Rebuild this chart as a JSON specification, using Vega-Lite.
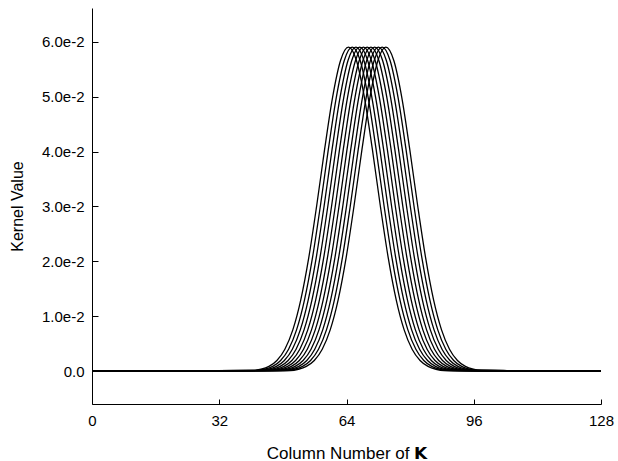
{
  "$schema": "https://vega.github.io/schema/vega-lite/v6.json",
  "autosize": {"type": "none"},
  "width": 509,
  "height": 396,
  "padding": {"left": 92, "top": 8, "right": 17, "bottom": 57},
  "background": "white",
  "config": {
    "view": {"stroke": null},
    "font": "Liberation Sans",
    "axis": {
      "grid": false,
      "domainColor": "black",
      "domainWidth": 1,
      "tickColor": "black",
      "tickWidth": 1,
      "labelColor": "black",
      "titleColor": "black",
      "labelFont": "Liberation Sans",
      "titleFont": "Liberation Sans",
      "labelFontSize": 15,
      "titleFontSize": 16,
      "titleFontWeight": "normal"
    }
  },
  "data": {
    "values": [
      {"curve": 0, "col": 0, "value": 0},
      {"curve": 0, "col": 40.5, "value": 0.000139}, {"curve": 0, "col": 42.5, "value": 0.000366}, {"curve": 0, "col": 44.5, "value": 0.000884}, {"curve": 0, "col": 46.5, "value": 0.00196}, {"curve": 0, "col": 48.5, "value": 0.00401}, {"curve": 0, "col": 50.5, "value": 0.00753}, {"curve": 0, "col": 52.5, "value": 0.013}, {"curve": 0, "col": 54.5, "value": 0.02064}, {"curve": 0, "col": 56.5, "value": 0.03013}, {"curve": 0, "col": 58.5, "value": 0.04043}, {"curve": 0, "col": 60.5, "value": 0.04987}, {"curve": 0, "col": 62.5, "value": 0.05657},
      {"curve": 0, "col": 64.5, "value": 0.059},
      {"curve": 0, "col": 66.5, "value": 0.05657}, {"curve": 0, "col": 68.5, "value": 0.04987}, {"curve": 0, "col": 70.5, "value": 0.04043}, {"curve": 0, "col": 72.5, "value": 0.03013}, {"curve": 0, "col": 74.5, "value": 0.02064}, {"curve": 0, "col": 76.5, "value": 0.013}, {"curve": 0, "col": 78.5, "value": 0.00753}, {"curve": 0, "col": 80.5, "value": 0.00401}, {"curve": 0, "col": 82.5, "value": 0.00196}, {"curve": 0, "col": 84.5, "value": 0.000884}, {"curve": 0, "col": 86.5, "value": 0.000366}, {"curve": 0, "col": 88.5, "value": 0.000139},
      {"curve": 0, "col": 128, "value": 0},

      {"curve": 1, "col": 0, "value": 0},
      {"curve": 1, "col": 41.44, "value": 0.000139}, {"curve": 1, "col": 43.44, "value": 0.000366}, {"curve": 1, "col": 45.44, "value": 0.000884}, {"curve": 1, "col": 47.44, "value": 0.00196}, {"curve": 1, "col": 49.44, "value": 0.00401}, {"curve": 1, "col": 51.44, "value": 0.00753}, {"curve": 1, "col": 53.44, "value": 0.013}, {"curve": 1, "col": 55.44, "value": 0.02064}, {"curve": 1, "col": 57.44, "value": 0.03013}, {"curve": 1, "col": 59.44, "value": 0.04043}, {"curve": 1, "col": 61.44, "value": 0.04987}, {"curve": 1, "col": 63.44, "value": 0.05657},
      {"curve": 1, "col": 65.44, "value": 0.059},
      {"curve": 1, "col": 67.44, "value": 0.05657}, {"curve": 1, "col": 69.44, "value": 0.04987}, {"curve": 1, "col": 71.44, "value": 0.04043}, {"curve": 1, "col": 73.44, "value": 0.03013}, {"curve": 1, "col": 75.44, "value": 0.02064}, {"curve": 1, "col": 77.44, "value": 0.013}, {"curve": 1, "col": 79.44, "value": 0.00753}, {"curve": 1, "col": 81.44, "value": 0.00401}, {"curve": 1, "col": 83.44, "value": 0.00196}, {"curve": 1, "col": 85.44, "value": 0.000884}, {"curve": 1, "col": 87.44, "value": 0.000366}, {"curve": 1, "col": 89.44, "value": 0.000139},
      {"curve": 1, "col": 128, "value": 0},

      {"curve": 2, "col": 0, "value": 0},
      {"curve": 2, "col": 42.38, "value": 0.000139}, {"curve": 2, "col": 44.38, "value": 0.000366}, {"curve": 2, "col": 46.38, "value": 0.000884}, {"curve": 2, "col": 48.38, "value": 0.00196}, {"curve": 2, "col": 50.38, "value": 0.00401}, {"curve": 2, "col": 52.38, "value": 0.00753}, {"curve": 2, "col": 54.38, "value": 0.013}, {"curve": 2, "col": 56.38, "value": 0.02064}, {"curve": 2, "col": 58.38, "value": 0.03013}, {"curve": 2, "col": 60.38, "value": 0.04043}, {"curve": 2, "col": 62.38, "value": 0.04987}, {"curve": 2, "col": 64.38, "value": 0.05657},
      {"curve": 2, "col": 66.38, "value": 0.059},
      {"curve": 2, "col": 68.38, "value": 0.05657}, {"curve": 2, "col": 70.38, "value": 0.04987}, {"curve": 2, "col": 72.38, "value": 0.04043}, {"curve": 2, "col": 74.38, "value": 0.03013}, {"curve": 2, "col": 76.38, "value": 0.02064}, {"curve": 2, "col": 78.38, "value": 0.013}, {"curve": 2, "col": 80.38, "value": 0.00753}, {"curve": 2, "col": 82.38, "value": 0.00401}, {"curve": 2, "col": 84.38, "value": 0.00196}, {"curve": 2, "col": 86.38, "value": 0.000884}, {"curve": 2, "col": 88.38, "value": 0.000366}, {"curve": 2, "col": 90.38, "value": 0.000139},
      {"curve": 2, "col": 128, "value": 0},

      {"curve": 3, "col": 0, "value": 0},
      {"curve": 3, "col": 43.32, "value": 0.000139}, {"curve": 3, "col": 45.32, "value": 0.000366}, {"curve": 3, "col": 47.32, "value": 0.000884}, {"curve": 3, "col": 49.32, "value": 0.00196}, {"curve": 3, "col": 51.32, "value": 0.00401}, {"curve": 3, "col": 53.32, "value": 0.00753}, {"curve": 3, "col": 55.32, "value": 0.013}, {"curve": 3, "col": 57.32, "value": 0.02064}, {"curve": 3, "col": 59.32, "value": 0.03013}, {"curve": 3, "col": 61.32, "value": 0.04043}, {"curve": 3, "col": 63.32, "value": 0.04987}, {"curve": 3, "col": 65.32, "value": 0.05657},
      {"curve": 3, "col": 67.32, "value": 0.059},
      {"curve": 3, "col": 69.32, "value": 0.05657}, {"curve": 3, "col": 71.32, "value": 0.04987}, {"curve": 3, "col": 73.32, "value": 0.04043}, {"curve": 3, "col": 75.32, "value": 0.03013}, {"curve": 3, "col": 77.32, "value": 0.02064}, {"curve": 3, "col": 79.32, "value": 0.013}, {"curve": 3, "col": 81.32, "value": 0.00753}, {"curve": 3, "col": 83.32, "value": 0.00401}, {"curve": 3, "col": 85.32, "value": 0.00196}, {"curve": 3, "col": 87.32, "value": 0.000884}, {"curve": 3, "col": 89.32, "value": 0.000366}, {"curve": 3, "col": 91.32, "value": 0.000139},
      {"curve": 3, "col": 128, "value": 0},

      {"curve": 4, "col": 0, "value": 0},
      {"curve": 4, "col": 44.26, "value": 0.000139}, {"curve": 4, "col": 46.26, "value": 0.000366}, {"curve": 4, "col": 48.26, "value": 0.000884}, {"curve": 4, "col": 50.26, "value": 0.00196}, {"curve": 4, "col": 52.26, "value": 0.00401}, {"curve": 4, "col": 54.26, "value": 0.00753}, {"curve": 4, "col": 56.26, "value": 0.013}, {"curve": 4, "col": 58.26, "value": 0.02064}, {"curve": 4, "col": 60.26, "value": 0.03013}, {"curve": 4, "col": 62.26, "value": 0.04043}, {"curve": 4, "col": 64.26, "value": 0.04987}, {"curve": 4, "col": 66.26, "value": 0.05657},
      {"curve": 4, "col": 68.26, "value": 0.059},
      {"curve": 4, "col": 70.26, "value": 0.05657}, {"curve": 4, "col": 72.26, "value": 0.04987}, {"curve": 4, "col": 74.26, "value": 0.04043}, {"curve": 4, "col": 76.26, "value": 0.03013}, {"curve": 4, "col": 78.26, "value": 0.02064}, {"curve": 4, "col": 80.26, "value": 0.013}, {"curve": 4, "col": 82.26, "value": 0.00753}, {"curve": 4, "col": 84.26, "value": 0.00401}, {"curve": 4, "col": 86.26, "value": 0.00196}, {"curve": 4, "col": 88.26, "value": 0.000884}, {"curve": 4, "col": 90.26, "value": 0.000366}, {"curve": 4, "col": 92.26, "value": 0.000139},
      {"curve": 4, "col": 128, "value": 0},

      {"curve": 5, "col": 0, "value": 0},
      {"curve": 5, "col": 45.2, "value": 0.000139}, {"curve": 5, "col": 47.2, "value": 0.000366}, {"curve": 5, "col": 49.2, "value": 0.000884}, {"curve": 5, "col": 51.2, "value": 0.00196}, {"curve": 5, "col": 53.2, "value": 0.00401}, {"curve": 5, "col": 55.2, "value": 0.00753}, {"curve": 5, "col": 57.2, "value": 0.013}, {"curve": 5, "col": 59.2, "value": 0.02064}, {"curve": 5, "col": 61.2, "value": 0.03013}, {"curve": 5, "col": 63.2, "value": 0.04043}, {"curve": 5, "col": 65.2, "value": 0.04987}, {"curve": 5, "col": 67.2, "value": 0.05657},
      {"curve": 5, "col": 69.2, "value": 0.059},
      {"curve": 5, "col": 71.2, "value": 0.05657}, {"curve": 5, "col": 73.2, "value": 0.04987}, {"curve": 5, "col": 75.2, "value": 0.04043}, {"curve": 5, "col": 77.2, "value": 0.03013}, {"curve": 5, "col": 79.2, "value": 0.02064}, {"curve": 5, "col": 81.2, "value": 0.013}, {"curve": 5, "col": 83.2, "value": 0.00753}, {"curve": 5, "col": 85.2, "value": 0.00401}, {"curve": 5, "col": 87.2, "value": 0.00196}, {"curve": 5, "col": 89.2, "value": 0.000884}, {"curve": 5, "col": 91.2, "value": 0.000366}, {"curve": 5, "col": 93.2, "value": 0.000139},
      {"curve": 5, "col": 128, "value": 0},

      {"curve": 6, "col": 0, "value": 0},
      {"curve": 6, "col": 46.14, "value": 0.000139}, {"curve": 6, "col": 48.14, "value": 0.000366}, {"curve": 6, "col": 50.14, "value": 0.000884}, {"curve": 6, "col": 52.14, "value": 0.00196}, {"curve": 6, "col": 54.14, "value": 0.00401}, {"curve": 6, "col": 56.14, "value": 0.00753}, {"curve": 6, "col": 58.14, "value": 0.013}, {"curve": 6, "col": 60.14, "value": 0.02064}, {"curve": 6, "col": 62.14, "value": 0.03013}, {"curve": 6, "col": 64.14, "value": 0.04043}, {"curve": 6, "col": 66.14, "value": 0.04987}, {"curve": 6, "col": 68.14, "value": 0.05657},
      {"curve": 6, "col": 70.14, "value": 0.059},
      {"curve": 6, "col": 72.14, "value": 0.05657}, {"curve": 6, "col": 74.14, "value": 0.04987}, {"curve": 6, "col": 76.14, "value": 0.04043}, {"curve": 6, "col": 78.14, "value": 0.03013}, {"curve": 6, "col": 80.14, "value": 0.02064}, {"curve": 6, "col": 82.14, "value": 0.013}, {"curve": 6, "col": 84.14, "value": 0.00753}, {"curve": 6, "col": 86.14, "value": 0.00401}, {"curve": 6, "col": 88.14, "value": 0.00196}, {"curve": 6, "col": 90.14, "value": 0.000884}, {"curve": 6, "col": 92.14, "value": 0.000366}, {"curve": 6, "col": 94.14, "value": 0.000139},
      {"curve": 6, "col": 128, "value": 0},

      {"curve": 7, "col": 0, "value": 0},
      {"curve": 7, "col": 47.08, "value": 0.000139}, {"curve": 7, "col": 49.08, "value": 0.000366}, {"curve": 7, "col": 51.08, "value": 0.000884}, {"curve": 7, "col": 53.08, "value": 0.00196}, {"curve": 7, "col": 55.08, "value": 0.00401}, {"curve": 7, "col": 57.08, "value": 0.00753}, {"curve": 7, "col": 59.08, "value": 0.013}, {"curve": 7, "col": 61.08, "value": 0.02064}, {"curve": 7, "col": 63.08, "value": 0.03013}, {"curve": 7, "col": 65.08, "value": 0.04043}, {"curve": 7, "col": 67.08, "value": 0.04987}, {"curve": 7, "col": 69.08, "value": 0.05657},
      {"curve": 7, "col": 71.08, "value": 0.059},
      {"curve": 7, "col": 73.08, "value": 0.05657}, {"curve": 7, "col": 75.08, "value": 0.04987}, {"curve": 7, "col": 77.08, "value": 0.04043}, {"curve": 7, "col": 79.08, "value": 0.03013}, {"curve": 7, "col": 81.08, "value": 0.02064}, {"curve": 7, "col": 83.08, "value": 0.013}, {"curve": 7, "col": 85.08, "value": 0.00753}, {"curve": 7, "col": 87.08, "value": 0.00401}, {"curve": 7, "col": 89.08, "value": 0.00196}, {"curve": 7, "col": 91.08, "value": 0.000884}, {"curve": 7, "col": 93.08, "value": 0.000366}, {"curve": 7, "col": 95.08, "value": 0.000139},
      {"curve": 7, "col": 128, "value": 0},

      {"curve": 8, "col": 0, "value": 0},
      {"curve": 8, "col": 48.02, "value": 0.000139}, {"curve": 8, "col": 50.02, "value": 0.000366}, {"curve": 8, "col": 52.02, "value": 0.000884}, {"curve": 8, "col": 54.02, "value": 0.00196}, {"curve": 8, "col": 56.02, "value": 0.00401}, {"curve": 8, "col": 58.02, "value": 0.00753}, {"curve": 8, "col": 60.02, "value": 0.013}, {"curve": 8, "col": 62.02, "value": 0.02064}, {"curve": 8, "col": 64.02, "value": 0.03013}, {"curve": 8, "col": 66.02, "value": 0.04043}, {"curve": 8, "col": 68.02, "value": 0.04987}, {"curve": 8, "col": 70.02, "value": 0.05657},
      {"curve": 8, "col": 72.02, "value": 0.059},
      {"curve": 8, "col": 74.02, "value": 0.05657}, {"curve": 8, "col": 76.02, "value": 0.04987}, {"curve": 8, "col": 78.02, "value": 0.04043}, {"curve": 8, "col": 80.02, "value": 0.03013}, {"curve": 8, "col": 82.02, "value": 0.02064}, {"curve": 8, "col": 84.02, "value": 0.013}, {"curve": 8, "col": 86.02, "value": 0.00753}, {"curve": 8, "col": 88.02, "value": 0.00401}, {"curve": 8, "col": 90.02, "value": 0.00196}, {"curve": 8, "col": 92.02, "value": 0.000884}, {"curve": 8, "col": 94.02, "value": 0.000366}, {"curve": 8, "col": 96.02, "value": 0.000139},
      {"curve": 8, "col": 128, "value": 0},

      {"curve": 9, "col": 0, "value": 0},
      {"curve": 9, "col": 48.96, "value": 0.000139}, {"curve": 9, "col": 50.96, "value": 0.000366}, {"curve": 9, "col": 52.96, "value": 0.000884}, {"curve": 9, "col": 54.96, "value": 0.00196}, {"curve": 9, "col": 56.96, "value": 0.00401}, {"curve": 9, "col": 58.96, "value": 0.00753}, {"curve": 9, "col": 60.96, "value": 0.013}, {"curve": 9, "col": 62.96, "value": 0.02064}, {"curve": 9, "col": 64.96, "value": 0.03013}, {"curve": 9, "col": 66.96, "value": 0.04043}, {"curve": 9, "col": 68.96, "value": 0.04987}, {"curve": 9, "col": 70.96, "value": 0.05657},
      {"curve": 9, "col": 72.96, "value": 0.059},
      {"curve": 9, "col": 74.96, "value": 0.05657}, {"curve": 9, "col": 76.96, "value": 0.04987}, {"curve": 9, "col": 78.96, "value": 0.04043}, {"curve": 9, "col": 80.96, "value": 0.03013}, {"curve": 9, "col": 82.96, "value": 0.02064}, {"curve": 9, "col": 84.96, "value": 0.013}, {"curve": 9, "col": 86.96, "value": 0.00753}, {"curve": 9, "col": 88.96, "value": 0.00401}, {"curve": 9, "col": 90.96, "value": 0.00196}, {"curve": 9, "col": 92.96, "value": 0.000884}, {"curve": 9, "col": 94.96, "value": 0.000366}, {"curve": 9, "col": 96.96, "value": 0.000139},
      {"curve": 9, "col": 128, "value": 0},

      {"curve": 10, "col": 0, "value": 0},
      {"curve": 10, "col": 49.9, "value": 0.000139}, {"curve": 10, "col": 51.9, "value": 0.000366}, {"curve": 10, "col": 53.9, "value": 0.000884}, {"curve": 10, "col": 55.9, "value": 0.00196}, {"curve": 10, "col": 57.9, "value": 0.00401}, {"curve": 10, "col": 59.9, "value": 0.00753}, {"curve": 10, "col": 61.9, "value": 0.013}, {"curve": 10, "col": 63.9, "value": 0.02064}, {"curve": 10, "col": 65.9, "value": 0.03013}, {"curve": 10, "col": 67.9, "value": 0.04043}, {"curve": 10, "col": 69.9, "value": 0.04987}, {"curve": 10, "col": 71.9, "value": 0.05657},
      {"curve": 10, "col": 73.9, "value": 0.059},
      {"curve": 10, "col": 75.9, "value": 0.05657}, {"curve": 10, "col": 77.9, "value": 0.04987}, {"curve": 10, "col": 79.9, "value": 0.04043}, {"curve": 10, "col": 81.9, "value": 0.03013}, {"curve": 10, "col": 83.9, "value": 0.02064}, {"curve": 10, "col": 85.9, "value": 0.013}, {"curve": 10, "col": 87.9, "value": 0.00753}, {"curve": 10, "col": 89.9, "value": 0.00401}, {"curve": 10, "col": 91.9, "value": 0.00196}, {"curve": 10, "col": 93.9, "value": 0.000884}, {"curve": 10, "col": 95.9, "value": 0.000366}, {"curve": 10, "col": 97.9, "value": 0.000139},
      {"curve": 10, "col": 128, "value": 0}
    ]
  },
  "mark": {"type": "line", "color": "black", "strokeWidth": 1.3, "interpolate": "monotone", "clip": true},
  "encoding": {
    "x": {
      "field": "col",
      "type": "quantitative",
      "scale": {"domain": [0, 128], "nice": false, "zero": false},
      "axis": {
        "title": "Column Number of 𝗞",
        "titleFontSize": 17,
        "values": [0, 32, 64, 96, 128],
        "format": "d",
        "tickSize": -5,
        "labelPadding": 14,
        "titlePadding": 17,
        "labelFlush": false
      }
    },
    "y": {
      "field": "value",
      "type": "quantitative",
      "scale": {"domain": [-0.00596, 0.06613], "nice": false, "zero": false},
      "axis": {
        "title": "Kernel Value",
        "values": [0, 0.01, 0.02, 0.03, 0.04, 0.05, 0.06],
        "labelExpr": "datum.value === 0 ? '0.0' : format(datum.value, '.1e')",
        "tickSize": -6,
        "labelPadding": 14,
        "titlePadding": 16
      }
    },
    "detail": {"field": "curve", "type": "nominal"}
  }
}
